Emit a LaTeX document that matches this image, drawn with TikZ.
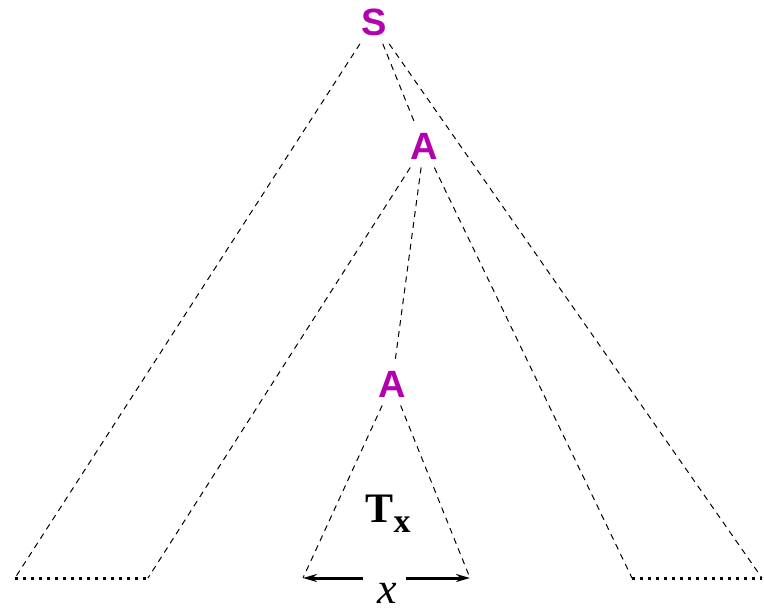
\documentclass[tikz,border=0pt]{standalone}
\usepackage{fontspec}
\setmainfont{Liberation Serif}
\newfontfamily\labelfont{Liberation Sans}
\usetikzlibrary{arrows.meta}
\definecolor{symbcol}{RGB}{176,0,176}
\begin{document}
\begin{tikzpicture}[
    x=0.5pt, y=-0.5pt,
    symbole/.style={text=symbcol, inner sep=4pt,
                    font=\labelfont\bfseries\fontsize{19}{19}\selectfont},
    branche/.style={line width=0.5pt, dash pattern=on 3pt off 2.5pt},
    base/.style={line width=1.5pt, dash pattern=on 1.5pt off 2.5pt},
    fleche/.style={-{Stealth[length=7pt,width=4pt]}, line width=1.5pt}
]
    \useasboundingbox (0,0) rectangle (764,610);

    \node[symbole] (S) at (374,22) {S};
    \node[symbole] (A1) at (424,146) {A};
    \node[symbole] (A2) at (392,384) {A};

    \coordinate (g1) at (15,578);
    \coordinate (g2) at (148,578);
    \coordinate (d1) at (632,578);
    \coordinate (d2) at (762,578);
    \coordinate (t1) at (303,578);
    \coordinate (t2) at (470,578);

    \draw[branche] (S) -- (g1);
    \draw[branche] (S) -- (d2);
    \draw[branche] (S) -- (A1);
    \draw[branche] (A1) -- (g2);
    \draw[branche] (A1) -- (d1);
    \draw[branche] (A1) -- (A2);
    \draw[branche] (A2) -- (t1);
    \draw[branche] (A2) -- (t2);

    \draw[base] (g1) -- (g2);
    \draw[base] (d1) -- (d2);

    \node[font=\bfseries\fontsize{21}{21}\selectfont] (T) at (388,514)
        {T\raisebox{-5pt}{\fontsize{17}{17}\selectfont x}};

    \node[font=\itshape\fontsize{22}{22}\selectfont] (x) at (387,593) {x};
    \coordinate (m1) at (363,578);
    \coordinate (m2) at (406,578);
    \draw[fleche] (m1) -- (t1);
    \draw[fleche] (m2) -- (t2);
\end{tikzpicture}
\end{document}
